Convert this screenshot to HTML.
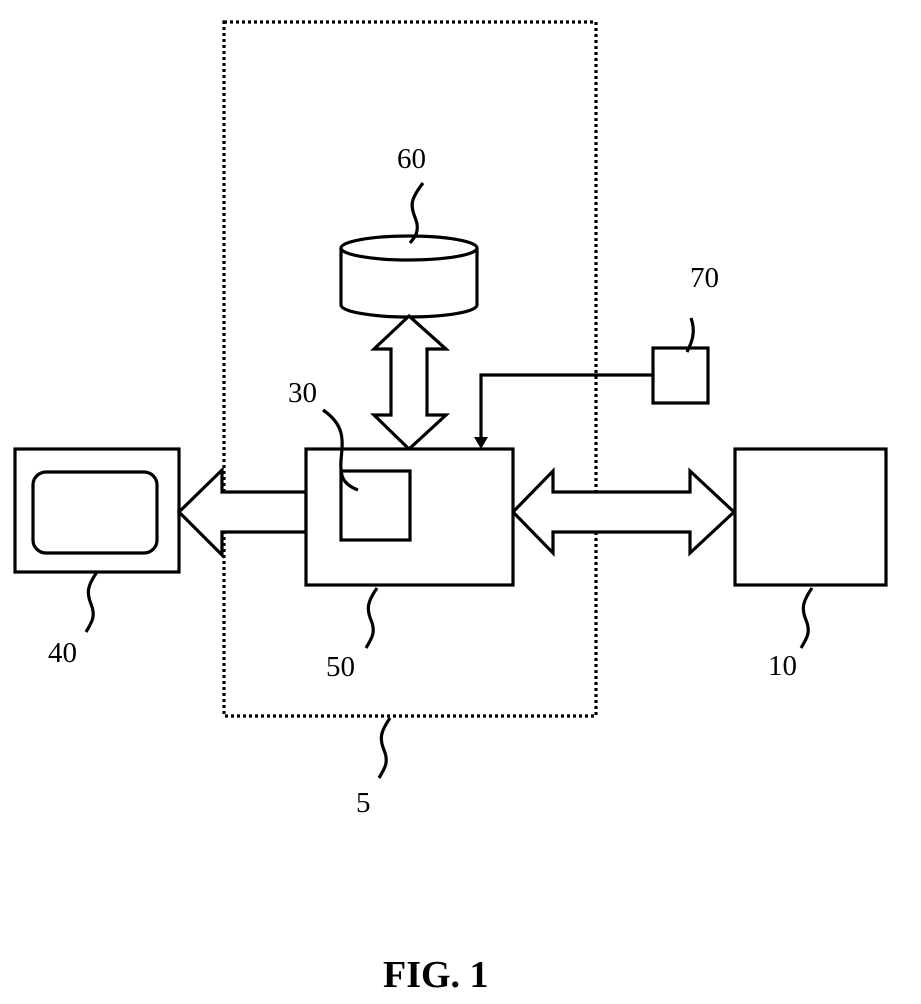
<!DOCTYPE html>
<html><head><style>body{margin:0;background:#fff}svg{display:block}text{font-family:"Liberation Serif",serif;font-size:29px}</style></head>
<body>
<svg width="921" height="1004" viewBox="0 0 921 1004" xmlns="http://www.w3.org/2000/svg">
<g fill="none" stroke="#000" stroke-width="3.2">
<rect x="224" y="22" width="372" height="694" stroke-dasharray="3,3"/>
<path d="M341,248 V305 A68,12 0 0 0 477,305 V248" fill="#fff"/>
<ellipse cx="409" cy="248" rx="68" ry="12" fill="#fff"/>
<polygon points="409,316 446,349 427,349 427,415 446,415 409,449 374,415 391,415 391,349 374,349" fill="#fff"/>
<polygon points="179,512 222,470 222,492 306,492 306,532 222,532 222,555" fill="#fff"/>
<polygon points="513,512 553,471 553,492 690,492 690,471 734,512 690,553 690,532 553,532 553,553" fill="#fff"/>
<rect x="306" y="449" width="207" height="136" fill="#fff"/>
<rect x="341" y="471" width="69" height="69"/>
<rect x="735" y="449" width="151" height="136"/>
<rect x="15" y="449" width="164" height="123"/>
<rect x="33" y="472" width="124" height="81" rx="13"/>
<rect x="653" y="348" width="55" height="55"/>
<path d="M653,375 H481 V440"/>
<path d="M423,183 C410,200 410,205 416,220 C420,232 414,238 410,243"/>
<path d="M97,572 C88,585 86,592 91,604 C96,616 92,622 86,632"/>
<path d="M377,588 C368,601 366,608 371,620 C376,632 372,638 366,648"/>
<path d="M812,588 C803,601 801,608 806,620 C811,632 807,638 801,648"/>
<path d="M390,718 C381,731 379,738 384,750 C389,762 385,768 379,778"/>
<path d="M323,410 C345,425 343,440 341,460 C340,475 342,484 358,490"/>
<path d="M691,318 C696,332 692,342 687,352"/>
</g>
<polygon points="474,437 488,437 481,449" fill="#000"/>
<text x="397" y="168">60</text>
<text x="690" y="287">70</text>
<text x="288" y="402">30</text>
<text x="48" y="662">40</text>
<text x="326" y="676">50</text>
<text x="768" y="675">10</text>
<text x="356" y="812">5</text>
<text x="383" y="987" style="font-size:38px;font-weight:bold">FIG. 1</text>
</svg>
</body></html>
